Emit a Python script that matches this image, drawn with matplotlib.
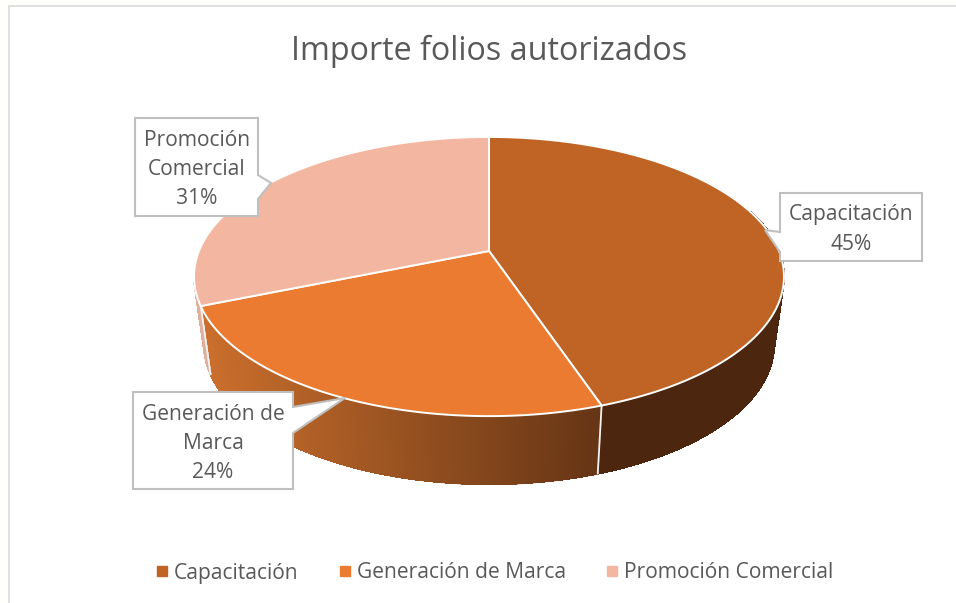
import numpy as np
import matplotlib
matplotlib.use("Agg")
import matplotlib.pyplot as plt
from matplotlib.collections import PolyCollection, LineCollection
from matplotlib.colors import to_rgb
from matplotlib.lines import Line2D
from matplotlib.patches import Polygon, Rectangle

title = "Importe folios autorizados"
categories = ["Capacitación", "Generación de Marca", "Promoción Comercial"]
values = [44.8, 24.0, 31.2]
top_colors = ["#C06425", "#EA7B30", "#F3B6A1"]
callout_text = ["Capacitación\n45%", "Generación de\nMarca\n24%", "Promoción\nComercial\n31%"]
callout_xy = [(851, 229.5), (213, 443.5), (197, 169.5)]
callout_shapes = [
    [(780, 193), (922, 193), (922, 261), (780, 261), (780, 252), (765, 230), (780, 232)],
    [(133, 392), (293, 392), (293, 407), (345, 398), (293, 433), (293, 489), (133, 489)],
    [(135, 118), (258, 118), (258, 175), (271, 183), (258, 199), (258, 216), (135, 216)],
]

GREY = "#595959"
plt.rcParams["font.family"] = ["Open Sans", "DejaVu Sans"]

fig = plt.figure(figsize=(9.56, 6.03), dpi=100, facecolor="#FFFFFC")
ax = fig.add_axes([0, 0, 1, 1])
ax.set_xlim(0, 956)
ax.set_ylim(603, 0)
ax.axis("off")

ax.add_patch(Rectangle((9, 6), 960, 610, fc="white", ec="#DDDDDD", lw=1.3, zorder=0))

# Perspective projection of the unit circle
CX, CY, A, B, K = 489.0, 251.0, 290.0, 134.9, 0.183
DEPTH, SHRINK = 68.0, 0.966


def project(frac, lower=False):
    th = 2 * np.pi * np.asarray(frac, dtype=float)
    x, y = np.sin(th), np.cos(th)
    w = 1 + K * y
    u, v = A * x / w, B * y / w
    if lower:
        return CX + SHRINK * u, CY - v + DEPTH
    return CX + u, CY - v


edges = np.concatenate([[0], np.cumsum(values)]) / np.sum(values)

C0 = np.array(to_rgb("#C96E2C"))
C1 = np.array(to_rgb("#663515"))


def wall_color(i, xpos):
    if i == 0:
        return np.array(to_rgb("#4D2610"))
    if i == 1:
        t = np.clip((xpos - 207) / (598 - 207), 0, 1)
        return C0 + (C1 - C0) * t
    return np.array(to_rgb("#DDB09C"))


# Side wall, visible front part of the rim only
for i in range(3):
    lo = max(edges[i], 0.20)
    hi = min(edges[i + 1], 0.715)
    fr = np.linspace(lo, hi, int((hi - lo) * 720) + 2)
    tx, ty = project(fr)
    bx, by = project(fr, lower=True)
    quads, cols = [], []
    for j in range(len(fr) - 1):
        quads.append([(tx[j], ty[j]), (tx[j + 1], ty[j + 1]), (bx[j + 1], by[j + 1]), (bx[j], by[j])])
        cols.append(wall_color(i, (tx[j] + tx[j + 1]) / 2))
    ax.add_collection(PolyCollection(quads, facecolors=cols, edgecolors=cols, linewidths=0.8,
                                     antialiaseds=False, zorder=2))
    rim = np.column_stack([bx, by])
    segs = np.stack([rim[:-1], rim[1:]], axis=1)
    ax.add_collection(LineCollection(segs, colors=cols, linewidths=1.2, capstyle="round", zorder=2.5))

# White separators on the wall
for f in (edges[1], edges[2]):
    tx, ty = project(f)
    bx, by = project(f, lower=True)
    ax.plot([tx, bx], [ty, by], color="#F2F2F2", lw=1.3, zorder=3)

# Top surface
for i in range(3):
    fr = np.linspace(edges[i], edges[i + 1], 300)
    x, y = project(fr)
    pts = np.column_stack([np.r_[CX, x], np.r_[CY, y]])
    ax.add_patch(Polygon(pts, closed=True, fc=top_colors[i], ec="white", lw=1.4, joinstyle="round", zorder=4))

# Title
ax.text(489, 51, title, ha="center", va="center", fontsize=23.2, color=GREY, zorder=6)

# Callouts
for shape, txt, (tx, ty) in zip(callout_shapes, callout_text, callout_xy):
    ax.add_patch(Polygon(shape, closed=True, fc="white", ec="#BFBFBF", lw=1.5, zorder=5))
    ax.text(tx, ty, txt, ha="center", va="center", fontsize=15.1, color=GREY, linespacing=1.52, zorder=6)

# Legend
handles = [Line2D([], [], ls="none", marker="s", ms=6.5, mfc=c, mec=c) for c in top_colors]
leg = ax.legend(handles, categories, loc="center", bbox_to_anchor=(494.5 / 956, 1 - 573 / 603),
                bbox_transform=ax.transAxes, ncol=3, frameon=False, fontsize=15.1,
                labelcolor=GREY, handlelength=0.6, handletextpad=0.25, columnspacing=1.91,
                borderpad=0)
leg.set_zorder(6)

fig.savefig("out.png", dpi=100, facecolor=fig.get_facecolor())
